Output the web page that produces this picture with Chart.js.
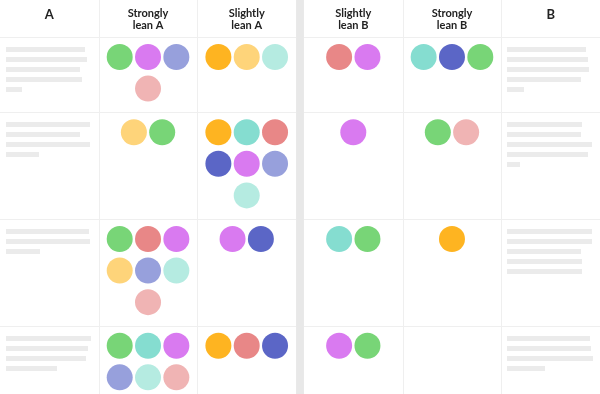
<!DOCTYPE html>
<html>
<head>
<meta charset="utf-8">
<script src="https://cdn.jsdelivr.net/npm/chart.js@4/dist/chart.umd.min.js"></script>
<style>
  html, body { margin: 0; padding: 0; background: #fff; }
  #wrap { width: 600px; height: 394px; }
</style>
</head>
<body>
<div id="wrap"><canvas id="leanChart" width="600" height="394"></canvas></div>
<script>
// header labels, left to right
const headers = ['A', ['Strongly', 'lean A'], ['Slightly', 'lean A'], ['Slightly', 'lean B'], ['Strongly', 'lean B'], 'B'];

// dots in each lean column, one list per row
const strongLeanA = [
  ['green', 'violet', 'lavender', 'pink'],
  ['yellow', 'green'],
  ['green', 'salmon', 'violet', 'yellow', 'lavender', 'mint', 'pink'],
  ['green', 'teal', 'violet', 'lavender', 'mint', 'pink']
];
const slightLeanA = [
  ['orange', 'yellow', 'mint'],
  ['orange', 'teal', 'salmon', 'navy', 'violet', 'lavender', 'mint'],
  ['violet', 'navy'],
  ['orange', 'salmon', 'navy']
];
const slightLeanB = [
  ['salmon', 'violet'],
  ['violet'],
  ['teal', 'green'],
  ['violet', 'green']
];
const strongLeanB = [
  ['teal', 'navy', 'green'],
  ['green', 'pink'],
  ['orange'],
  []
];

// placeholder text lines in the A and B columns (% of column width)
const textA = [
  [80, 82, 75, 77, 16],
  [85, 75, 85, 33],
  [84, 85, 34],
  [86, 83, 81, 52]
];
const textB = [
  [80, 82, 83, 75, 17],
  [76, 75, 86, 82, 13],
  [86, 86, 75, 76, 76],
  [84, 85, 87, 39]
];

const palette = {
  green: '#78d577', violet: '#d97af0', lavender: '#97a0dc', pink: '#f0b4b4',
  orange: '#feb421', yellow: '#fed47a', mint: '#b5ebe1', teal: '#85ddd0',
  navy: '#5b66c6', salmon: '#e88787'
};

const GAP = 0.08;       // split between the A side and the B side
const DOT_DX = 0.287;   // dot spacing in column units
const PER_LINE = 3;
const ROW_PAD = 0.38;   // extra row height, in dot-line units
const FIRST = 0.633;    // first dot line inside a row
const Y_MAX = 11.3;

const colCenters = [0, 1, 2, 3 + GAP, 4 + GAP, 5 + GAP];
const leanCols = [strongLeanA, slightLeanA, slightLeanB, strongLeanB];

// row tops from the number of dot lines needed
const rowTops = [];
let acc = 0;
for (let r = 0; r < strongLeanA.length; r++) {
  rowTops.push(acc);
  const lines = Math.max(1, ...leanCols.map(c => Math.ceil(c[r].length / PER_LINE)));
  acc += lines + ROW_PAD;
}

const points = [];
leanCols.forEach((col, ci) => {
  col.forEach((dots, r) => {
    dots.forEach((c, j) => {
      const line = Math.floor(j / PER_LINE);
      const k = Math.min(PER_LINE, dots.length - line * PER_LINE);
      points.push({
        x: colCenters[ci + 1] + (j % PER_LINE - (k - 1) / 2) * DOT_DX,
        y: rowTops[r] + FIRST + line,
        c
      });
    });
  });
});

const gridPlugin = {
  id: 'grid',
  beforeDraw(chart) {
    const { ctx, width, height, scales: { x, y } } = chart;
    ctx.save();
    ctx.fillStyle = '#fff';
    ctx.fillRect(0, 0, width, height);

    // placeholder text
    const colW = x.getPixelForValue(0.5) - x.getPixelForValue(-0.5);
    ctx.fillStyle = '#ebebeb';
    [[textA, -0.5], [textB, 4.5 + GAP]].forEach(([rows, left]) => {
      const lx = x.getPixelForValue(left) + 6;
      rows.forEach((lines, r) => {
        const top = y.getPixelForValue(rowTops[r]) + 10;
        lines.forEach((pct, i) => {
          ctx.fillRect(Math.round(lx), Math.round(top + i * 10), Math.round(pct / 100 * colW), 5);
        });
      });
    });

    // separators
    ctx.strokeStyle = '#efefef';
    ctx.lineWidth = 1;
    ctx.beginPath();
    [0.5, 1.5, 3.5 + GAP, 4.5 + GAP].forEach(v => {
      const px = Math.round(x.getPixelForValue(v)) + 0.5;
      ctx.moveTo(px, 0);
      ctx.lineTo(px, height);
    });
    rowTops.forEach(t => {
      const py = Math.round(y.getPixelForValue(t)) + 0.5;
      ctx.moveTo(0, py);
      ctx.lineTo(width, py);
    });
    ctx.stroke();

    // band between the two sides
    const b0 = x.getPixelForValue(2.5);
    const b1 = x.getPixelForValue(2.5 + GAP);
    ctx.fillStyle = '#e8e8e8';
    ctx.fillRect(b0, 0, b1 - b0, height);
    ctx.restore();
  }
};

new Chart(document.getElementById('leanChart'), {
  type: 'scatter',
  data: {
    datasets: [{
      data: points,
      backgroundColor: points.map(p => palette[p.c]),
      borderWidth: 0,
      pointRadius: 13,
      pointHoverRadius: 13,
      clip: false
    }]
  },
  options: {
    responsive: false,
    animation: false,
    events: [],
    layout: { padding: 0, autoPadding: false },
    plugins: { legend: { display: false }, tooltip: { enabled: false } },
    scales: {
      x: {
        type: 'linear',
        position: 'top',
        min: -0.5,
        max: 5.5 + GAP,
        grid: { display: false },
        border: { display: false },
        afterBuildTicks: scale => { scale.ticks = colCenters.map(v => ({ value: v })); },
        afterFit: scale => { scale.height = 37; },
        ticks: {
          autoSkip: false,
          maxRotation: 0,
          padding: -3,
          crossAlign: 'far',
          color: '#222',
          font: ctx => {
            const big = ctx.index === 0 || ctx.index === headers.length - 1;
            return { family: 'Lato', size: big ? 13 : 11, weight: 'bold', lineHeight: 1.1 };
          },
          callback: (value, index) => headers[index]
        }
      },
      y: {
        type: 'linear',
        display: false,
        reverse: true,
        min: 0,
        max: Y_MAX
      }
    }
  },
  plugins: [gridPlugin]
});
</script>
</body>
</html>
